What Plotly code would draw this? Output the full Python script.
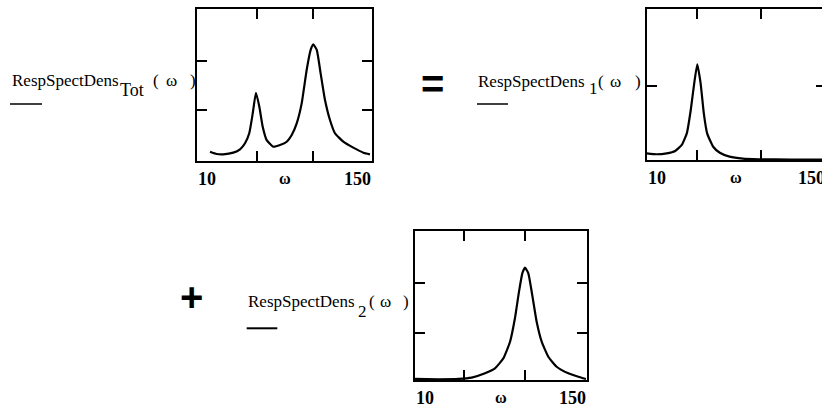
import plotly.graph_objects as go

W, H = 828, 409   # figure slightly wider than the 822px window: the right panel is cut off, as in the reference

# ---------------- data (relative units of each plot's height) ----------------
OMEGA_TOT = [20.2, 25.6, 30.9, 38.9, 44.3, 48.3, 51.7, 54.5, 57.1, 59.8, 62.5, 65.7, 71.0, 76.4,
             81.8, 85.8, 89.8, 93.8, 97.8, 101.0, 103.1, 105.9, 109.0, 112.5, 116.5, 120.5,
             127.2, 135.2, 143.3, 148.6]
DENS_TOT = [0.061, 0.046, 0.044, 0.055, 0.077, 0.117, 0.183, 0.314, 0.450, 0.358, 0.226, 0.138,
            0.094, 0.105, 0.127, 0.171, 0.248, 0.380, 0.600, 0.732, 0.769, 0.732, 0.578, 0.402,
            0.270, 0.183, 0.127, 0.088, 0.055, 0.044]

OMEGA_1 = [10, 17.8, 25.6, 32.2, 37.4, 41.3, 44.4, 47.1, 49.5, 52.1, 54.6, 57.2, 61.9, 67.1,
           74.7, 85.1, 97.7, 122.3, 150]
DENS_1 = [0.044, 0.038, 0.044, 0.060, 0.100, 0.177, 0.332, 0.509, 0.635, 0.509, 0.310, 0.177,
          0.088, 0.048, 0.022, 0.009, 0.005, 0.003, 0.002]

OMEGA_2 = [10, 29, 45.3, 56.2, 67.1, 75.2, 82, 87.5, 91.5, 94.8, 97.5, 99.7, 102.4, 105.6,
           109.2, 113.3, 118.7, 125.5, 135, 143.2, 149.4]
DENS_2 = [0.007, 0.005, 0.007, 0.016, 0.045, 0.078, 0.145, 0.257, 0.414, 0.593, 0.716, 0.754,
          0.716, 0.570, 0.391, 0.257, 0.156, 0.089, 0.045, 0.022, 0.007]

OMEGA_MIN, OMEGA_MAX = 10, 150
X_LIMIT_LABELS = ["10", "150"]
X_AXIS_NAME = "ω"

X_TICKS_TOT = [57.7, 103.1]
Y_TICKS_TOT = [0.336, 0.659]
X_TICKS_1 = [49.2, 99.0]
Y_TICKS_1 = [0.493]
X_TICKS_2 = [50.2, 99.7]
Y_TICKS_2 = [0.313, 0.649]

LABEL_MAIN = "RespSpectDens"
SUBSCRIPTS = ["Tot", "1", "2"]

# ---------------- figure ----------------
fig = go.Figure()

SERIF = "Liberation Serif"
SANS = "Liberation Sans"

def px_x(px):
    return px / W

def px_y(py):
    return 1 - py / H

panels = [
    # (omega, dens, xticks, yticks, x-domain px, y-domain px)
    (OMEGA_TOT, DENS_TOT, X_TICKS_TOT, Y_TICKS_TOT, (197.3, 371.7), (9.3, 161)),
    (OMEGA_1, DENS_1, X_TICKS_1, Y_TICKS_1, (646.7, 826), (9.3, 160)),
    (OMEGA_2, DENS_2, X_TICKS_2, Y_TICKS_2, (415, 586.7), (231, 380)),
]

annotations = []
for i, (om, dens, xt, yt, (x0, x1), (yt0, yb0)) in enumerate(panels):
    n = "" if i == 0 else str(i + 1)
    fig.add_trace(go.Scatter(
        x=om, y=dens, mode="lines",
        line=dict(color="black", width=2.2, shape="spline", smoothing=0.45),
        xaxis="x" + n, yaxis="y" + n, showlegend=False, hoverinfo="skip"))
    common = dict(showline=True, linecolor="black", linewidth=2, mirror="ticks",
                  ticks="inside", ticklen=10, tickwidth=1.5, tickcolor="black",
                  showticklabels=False, showgrid=False, zeroline=False, fixedrange=True)
    fig.layout["xaxis" + n] = dict(domain=[px_x(x0), px_x(x1)], range=[OMEGA_MIN, OMEGA_MAX],
                                   tickvals=xt, anchor="y" + n, **common)
    fig.layout["yaxis" + n] = dict(domain=[px_y(yb0), px_y(yt0)], range=[0, 1],
                                   tickvals=yt, anchor="x" + n, **common)
    # axis limit labels
    for xv, lab, anc in [(OMEGA_MIN, X_LIMIT_LABELS[0], "left"),
                         (OMEGA_MAX, X_LIMIT_LABELS[1], "right")]:
        annotations.append(dict(x=xv, y=0, xref="x" + n, yref=f"y{n} domain", text=f"<b>{lab}</b>",
                                showarrow=False, xanchor=anc, yanchor="top", yshift=-7,
                                borderpad=0, font=dict(family=SERIF, size=18, color="black")))
    annotations.append(dict(x=(OMEGA_MIN + OMEGA_MAX) / 2, y=0, xref="x" + n, yref=f"y{n} domain",
                            text=f"<b>{X_AXIS_NAME}</b>", showarrow=False, xanchor="center",
                            yanchor="top", yshift=-8, borderpad=0,
                            font=dict(family=SERIF, size=16, color="black")))


def txt(px, baseline, s, size=17, family=SERIF, anchor="left", bold=False, descent=0.216):
    bottom = baseline + descent * size
    annotations.append(dict(x=px_x(px), y=px_y(bottom), xref="paper", yref="paper",
                            text=("<b>%s</b>" % s) if bold else s, showarrow=False,
                            xanchor=anchor, yanchor="bottom", borderpad=0,
                            font=dict(family=family, size=size, color="black")))

# function labels: (main left, baseline, sub left, sub baseline, sub size, "(" left, omega center, ")" right)
labels = [
    (10.7, 87.3, 119, 97, 18, 151.7, 171.7, 197.0),
    (477.3, 88.3, 588, 95, 17, 596.7, 615.0, 641.7),
    (246.7, 308.0, 356.7, 318.3, 17, 368.3, 385.0, 410.0),
]
for (mx, mb, sx, sb, ss, lp, oc, rp), sub in zip(labels, SUBSCRIPTS):
    txt(mx, mb, LABEL_MAIN)
    txt(sx, sb, sub, size=ss)
    txt(lp, mb, "(")
    txt(oc, mb, "ω", anchor="center")
    txt(rp, mb, ")", anchor="right")

# operators
txt(432.5, 98.2, "=", size=40, family=SANS, anchor="center", bold=True, descent=0.212)
txt(191.7, 312.0, "+", size=40, family=SANS, anchor="center", bold=True, descent=0.212)

# placeholder underlines beneath labels
shapes = []
for x0, x1, y, w in [(10.0, 42.0, 104.0, 1.5), (477.0, 508.0, 104.0, 1.5), (246.7, 277.3, 328.3, 2.0)]:
    shapes.append(dict(type="line", xref="paper", yref="paper", x0=px_x(x0), x1=px_x(x1),
                       y0=px_y(y), y1=px_y(y), line=dict(color="black", width=w)))

fig.update_layout(width=W, height=H, autosize=False, margin=dict(l=0, r=0, t=0, b=0),
                  paper_bgcolor="white", plot_bgcolor="white",
                  annotations=annotations, shapes=shapes, showlegend=False)

fig.write_html("out.html", config={"displayModeBar": False},
               post_script="document.body.style.margin='0';document.body.style.padding='0';"
                           "document.body.style.overflow='hidden';")
